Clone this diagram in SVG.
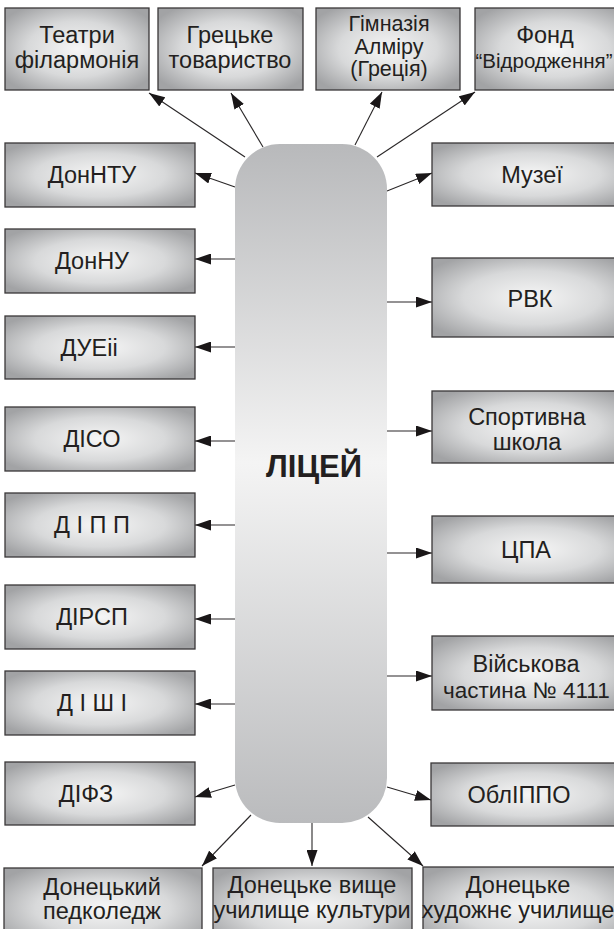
<svg xmlns="http://www.w3.org/2000/svg" width="614" height="929" viewBox="0 0 614 929">
<defs>
<radialGradient id="boxg" cx="50%" cy="50%" r="62%">
<stop offset="0" stop-color="#f6f6f6"/>
<stop offset="0.55" stop-color="#d8d9da"/>
<stop offset="1" stop-color="#a2a3a5"/>
</radialGradient>
<linearGradient id="pillg" x1="0" y1="0" x2="0" y2="1">
<stop offset="0" stop-color="#b8b9bb"/>
<stop offset="0.47" stop-color="#f4f4f4"/>
<stop offset="1" stop-color="#babbbd"/>
</linearGradient>
<marker id="ah" viewBox="0 0 16 11" refX="16" refY="5.5" markerWidth="16" markerHeight="11" markerUnits="userSpaceOnUse" orient="auto">
<path d="M0,0 L16,5.5 L0,11 Z" fill="#1a1718"/>
</marker>
</defs>
<style>
.box{fill:url(#boxg);stroke:#3a3738;stroke-width:1.3}
.t{font-family:"Liberation Sans",Arial,sans-serif;font-size:23.5px;fill:#231f20;text-anchor:middle}
.s{font-size:21.5px}
.c{stroke:#2a2728;stroke-width:1.1;fill:none;marker-end:url(#ah)}
</style>
<g id="connectors">
<line class="c" x1="245" y1="157" x2="149" y2="93"/>
<line class="c" x1="263" y1="147" x2="231" y2="93"/>
<line class="c" x1="355" y1="145" x2="382" y2="92"/>
<line class="c" x1="377" y1="157" x2="475" y2="92"/>
<line class="c" x1="235" y1="187" x2="195" y2="173"/>
<line class="c" x1="235" y1="259" x2="195" y2="259"/>
<line class="c" x1="235" y1="347" x2="195" y2="347"/>
<line class="c" x1="235" y1="441" x2="195" y2="441"/>
<line class="c" x1="235" y1="525" x2="195" y2="525"/>
<line class="c" x1="235" y1="619" x2="195" y2="619"/>
<line class="c" x1="235" y1="704" x2="195" y2="704"/>
<line class="c" x1="235" y1="785" x2="195" y2="797"/>
<line class="c" x1="387" y1="191" x2="432" y2="173"/>
<line class="c" x1="387" y1="302" x2="432" y2="302"/>
<line class="c" x1="387" y1="431" x2="432" y2="431"/>
<line class="c" x1="387" y1="553" x2="432" y2="553"/>
<line class="c" x1="387" y1="676" x2="432" y2="676"/>
<line class="c" x1="387" y1="787" x2="431" y2="800"/>
<line class="c" x1="251" y1="815" x2="202" y2="866"/>
<line class="c" x1="312" y1="823" x2="312" y2="866"/>
<line class="c" x1="368" y1="817" x2="423" y2="866"/>
</g>
<g id="licei">
<rect x="235" y="144" width="152" height="679" rx="45" ry="45" fill="url(#pillg)"/>
<text x="314" y="477" style="font-family:'Liberation Sans',Arial,sans-serif;font-size:31px;font-weight:bold;fill:#231f20;text-anchor:middle">ЛІЦЕЙ</text>
</g>
<g id="teatry">
<rect class="box" x="5" y="8" width="144" height="82"/>
<text class="t" x="77" y="43">Театри</text>
<text class="t" x="77" y="68">філармонія</text>
</g>
<g id="gretske">
<rect class="box" x="158" y="8" width="145" height="82"/>
<text class="t" x="230" y="43">Грецьке</text>
<text class="t" x="230" y="68">товариство</text>
</g>
<g id="gimnaziia">
<rect class="box" x="316" y="8" width="144" height="82"/>
<text class="t s" x="389" y="31">Гімназія</text>
<text class="t s" x="389" y="53.5">Алміру</text>
<text class="t s" x="389" y="76">(Греція)</text>
</g>
<g id="fond">
<rect class="box" x="475" y="8" width="160" height="82"/>
<text class="t" x="545" y="43">Фонд</text>
<text class="t" x="544" y="68" style="font-size:20.5px">“Відродження”</text>
</g>
<g id="donntu">
<rect class="box" x="5" y="143" width="190" height="64"/>
<text class="t" x="92" y="183">ДонНТУ</text>
</g>
<g id="donnu">
<rect class="box" x="5" y="229" width="190" height="64"/>
<text class="t" x="92" y="269">ДонНУ</text>
</g>
<g id="dueii">
<rect class="box" x="5" y="316" width="190" height="63"/>
<text class="t" x="89" y="356">ДУЕіі</text>
</g>
<g id="diso">
<rect class="box" x="5" y="407" width="190" height="64"/>
<text class="t" x="92" y="447">ДІСО</text>
</g>
<g id="dipp">
<rect class="box" x="5" y="493" width="190" height="64"/>
<text class="t" x="92" y="533">Д І П П</text>
</g>
<g id="dirsp">
<rect class="box" x="5" y="585" width="190" height="64"/>
<text class="t" x="92" y="625">ДІРСП</text>
</g>
<g id="dishi">
<rect class="box" x="5" y="671" width="190" height="64"/>
<text class="t" x="92" y="711">Д І Ш І</text>
</g>
<g id="difz">
<rect class="box" x="5" y="762" width="190" height="63"/>
<text class="t" x="86" y="802">ДІФЗ</text>
</g>
<g id="muzei">
<rect class="box" x="432" y="143" width="200" height="63"/>
<text class="t" x="532" y="183">Музеї</text>
</g>
<g id="rvk">
<rect class="box" x="432" y="258" width="200" height="79"/>
<text class="t" x="530" y="307">РВК</text>
</g>
<g id="sportyvna">
<rect class="box" x="432" y="391" width="200" height="72"/>
<text class="t" x="527" y="425">Спортивна</text>
<text class="t" x="527" y="450">школа</text>
</g>
<g id="tspa">
<rect class="box" x="432" y="516" width="200" height="67"/>
<text class="t" x="526" y="558">ЦПА</text>
</g>
<g id="viiskova">
<rect class="box" x="432" y="636" width="200" height="74"/>
<text class="t" x="526" y="672">Військова</text>
<text class="t" x="443" y="698" style="text-anchor:start;font-size:22.5px">частина  № 4111</text>
</g>
<g id="oblippo">
<rect class="box" x="431" y="763" width="200" height="63"/>
<text class="t" x="519" y="803">ОблІППО</text>
</g>
<g id="pedkoledzh">
<rect class="box" x="4" y="868" width="198" height="80"/>
<text class="t" x="102" y="895">Донецький</text>
<text class="t" x="102" y="919">педколедж</text>
</g>
<g id="uchylyshche-kultury">
<rect class="box" x="213" y="868" width="199" height="80"/>
<text class="t" x="312" y="893">Донецьке вище</text>
<text class="t" x="312" y="918">училище культури</text>
</g>
<g id="khudozhnie">
<rect class="box" x="423" y="867" width="210" height="80"/>
<text class="t" x="518" y="893">Донецьке</text>
<text class="t" x="518" y="918">художнє училище</text>
</g>
</svg>
